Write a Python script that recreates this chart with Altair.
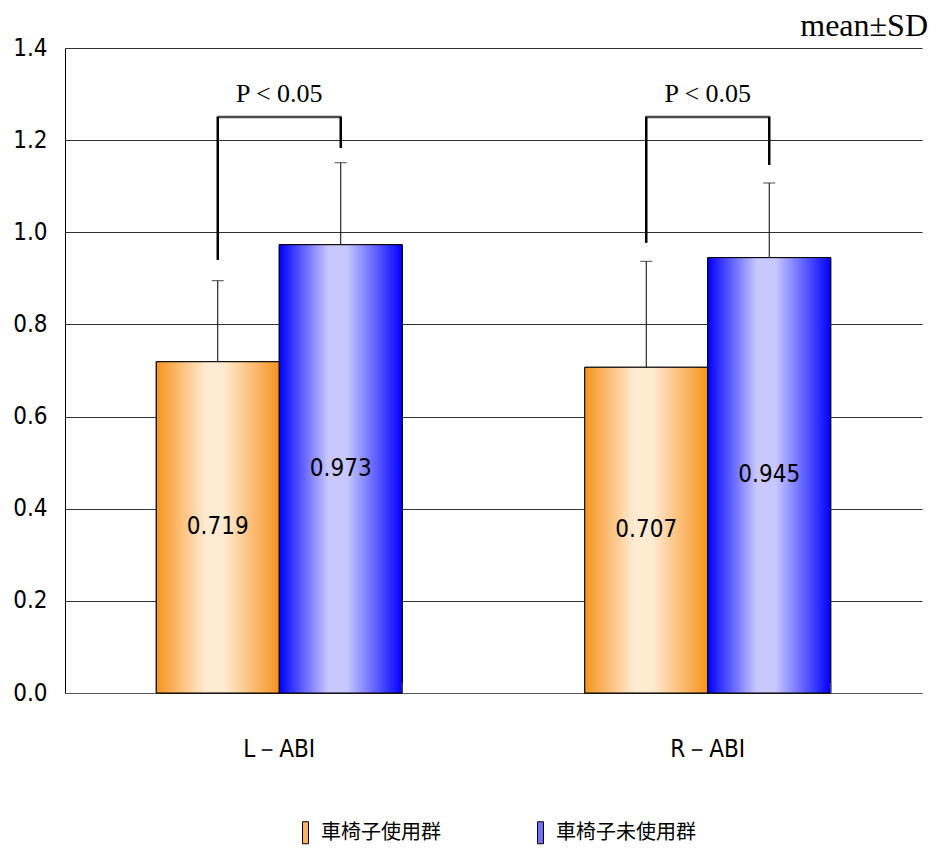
import altair as alt
import pandas as pd

cats = ["L－ABI", "R－ABI"]
groups = ["車椅子使用群", "車椅子未使用群"]
row_cat = ["L－ABI", "L－ABI", "R－ABI", "R－ABI"]
row_group = ["車椅子使用群", "車椅子未使用群", "車椅子使用群", "車椅子未使用群"]
means = [0.719, 0.973, 0.707, 0.945]
sds = [0.176, 0.178, 0.230, 0.162]
value_labels = ["0.719", "0.973", "0.707", "0.945"]
leg_low = [0.94, 1.183, 0.977, 1.146]
bracket_top = [1.25, 1.25]
p_labels = ["P < 0.05", "P < 0.05"]
p_y = [1.30, 1.30]
y_ticks = [0.0, 0.2, 0.4, 0.6, 0.8, 1.0, 1.2, 1.4]

df = pd.DataFrame({
    "cat": row_cat, "group": row_group, "mean": means, "sd": sds,
    "label": value_labels, "leg_low": leg_low,
})
df["top"] = df["mean"] + df["sd"]
df["half"] = df["mean"] / 2
df["leg_high"] = [bracket_top[0], bracket_top[0], bracket_top[1], bracket_top[1]]
pdf = pd.DataFrame({"cat": cats, "y": bracket_top, "py": p_y, "p": p_labels})
base_df = pd.DataFrame({"cat": cats, "y0": [0.0, 0.0], "y1": [0.022, 0.022]})

NARROW = "'Liberation Sans Narrow', 'DejaVu Sans Condensed', 'Liberation Sans', sans-serif"

x_axis = alt.Axis(title=None, labelFont=NARROW, labelFontSize=24, labelColor="black",
                  labelPadding=44, ticks=False, domainColor="#555555", labelAngle=0)
x_enc = alt.X("cat:N", sort=cats, title=None,
              scale=alt.Scale(paddingInner=0.426, paddingOuter=0.213), axis=x_axis)
x_plain = alt.X("cat:N", sort=cats, title=None)
xo = alt.XOffset("group:N", sort=groups, scale=alt.Scale(paddingInner=0, paddingOuter=0))
y_scale = alt.Scale(domain=[0, 1.4], nice=False)
y_axis = alt.Axis(title=None, values=y_ticks, format=".1f", labelFont=NARROW,
                  labelFontSize=24, labelColor="black", labelPadding=18, ticks=False,
                  grid=True, gridColor="#333333", gridWidth=1, domainColor="black")

sym_path = "M-0.27,-1H0.27V1H-0.27Z"

solid = alt.Chart(df).mark_bar(stroke="black", strokeWidth=1).encode(
    x=x_enc, xOffset=xo,
    y=alt.Y("mean:Q", scale=y_scale, axis=y_axis, title=None),
    color=alt.Color("group:N", sort=groups,
                    scale=alt.Scale(domain=groups, range=["#FBB460", "#7070FF"]),
                    legend=alt.Legend(title=None, orient="none", legendX=229, legendY=773,
                                      direction="horizontal", symbolType=sym_path,
                                      symbolSize=484, symbolStrokeColor="black",
                                      symbolStrokeWidth=1, labelFont="Noto Sans CJK JP",
                                      labelFontSize=20, labelColor="black", labelLimit=400,
                                      columnPadding=88, padding=0, labelOffset=4)),
)

def grad(edge, light):
    return alt.Gradient(gradient="linear", x1=0, x2=1, y1=0, y2=0, stops=[
        alt.GradientStop(color=edge, offset=0),
        alt.GradientStop(color=light, offset=0.4),
        alt.GradientStop(color=light, offset=0.55),
        alt.GradientStop(color=edge, offset=1),
    ])

orange = alt.Chart(df).transform_filter(alt.datum.group == groups[0]).mark_bar(
    color=grad("#F7931E", "#FFEBD2"), stroke="black", strokeWidth=1).encode(
    x=x_plain, xOffset=xo, y=alt.Y("mean:Q", title=None))
blue = alt.Chart(df).transform_filter(alt.datum.group == groups[1]).mark_bar(
    color=grad("#0000FF", "#C8C8FF"), stroke="black", strokeWidth=1).encode(
    x=x_plain, xOffset=xo, y=alt.Y("mean:Q", title=None))

err = alt.Chart(df).mark_rule(color="black", strokeWidth=1).encode(
    x=x_plain, xOffset=xo, y=alt.Y("mean:Q", title=None), y2="top:Q")
caps = alt.Chart(df).mark_tick(color="black", thickness=1, size=12, orient="horizontal").encode(
    x=x_plain, xOffset=xo, y=alt.Y("top:Q", title=None))

legs = alt.Chart(df).mark_rule(color="black", strokeWidth=2.5).encode(
    x=x_plain, xOffset=xo, y=alt.Y("leg_low:Q", title=None), y2="leg_high:Q")
bridge = alt.Chart(pdf).mark_tick(color="black", thickness=2.5, size=125, orient="horizontal").encode(
    x=x_plain, y=alt.Y("y:Q", title=None))
ptext = alt.Chart(pdf).mark_text(font="Liberation Serif", fontSize=26, color="black",
                                 baseline="middle").encode(
    x=x_plain, y=alt.Y("py:Q", title=None), text="p:N")

vals = alt.Chart(df).mark_text(font=NARROW, fontSize=24, color="black", baseline="middle").encode(
    x=x_plain, xOffset=xo, y=alt.Y("half:Q", title=None), text="label:N")

base_ticks = alt.Chart(base_df).mark_rule(color="#555555", strokeWidth=1).encode(
    x=alt.X("cat:N", sort=cats, title=None, bandPosition=1),
    y=alt.Y("y0:Q", title=None), y2="y1:Q")

chart = alt.layer(solid, orange, blue, err, caps, legs, bridge, ptext, vals, base_ticks).properties(
    width=857, height=645,
    title=alt.TitleParams("mean±SD", anchor="end", frame="group", font="Liberation Serif",
                          fontSize=32, fontWeight="normal", color="black", offset=8, dx=6,
                          dy=15),
    autosize=alt.AutoSizeParams(type="none"),
    padding={"left": 57, "top": 40, "right": 20, "bottom": 164},
    background="white",
).configure_view(stroke=None)

chart.save("out.html", embed_options={"renderer": "svg", "actions": False})
